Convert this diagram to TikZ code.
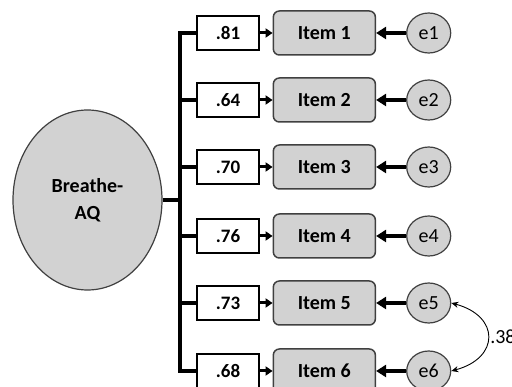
\documentclass[tikz,border=0pt]{standalone}
\usepackage{fontspec}
\setmainfont{Carlito}
\usetikzlibrary{positioning,calc,arrows.meta,shapes.geometric}
\definecolor{boxgray}{RGB}{210,210,210}
\definecolor{edgegray}{RGB}{64,64,64}

\begin{document}
\begin{tikzpicture}[x=1pt,y=-1pt,
    latent node/.style={ellipse,draw=edgegray,line width=1.2pt,fill=boxgray,
      minimum width=149pt,minimum height=180pt,align=center,
      font=\fontsize{20}{28}\selectfont\bfseries},
    load node/.style={rectangle,draw,line width=1.2pt,fill=white,inner sep=0pt,
      minimum width=62pt,minimum height=34pt,font=\fontsize{19}{20}\selectfont\bfseries},
    item node/.style={rectangle,rounded corners=6pt,draw=edgegray,line width=1.5pt,
      fill=boxgray,minimum width=102pt,minimum height=44pt,
      font=\fontsize{20}{22}\selectfont\bfseries},
    err node/.style={ellipse,draw=edgegray,line width=1.2pt,fill=boxgray,inner sep=0pt,
      minimum width=44pt,minimum height=40pt,font=\fontsize{20}{22}\selectfont},
    bus/.style={line width=4pt},
    short arrow/.style={line width=3pt,-{Triangle[length=7pt,width=9pt]}},
    err arrow/.style={line width=4pt,-{Triangle[length=10pt,width=12pt]}}]
    \useasboundingbox (0,0) rectangle (512,387);
    % nodes
      \node[latent node] (F) at (87.5,200) {\raisebox{6pt}{\begin{tabular}{@{}c@{}}Breathe-\\[-1pt]AQ\end{tabular}}};
      \coordinate (bus) at (180,0);
      \node[load node] (v1) at (228,33) {.81};
      \node[load node] (v2) at (228,100) {.64};
      \node[load node] (v3) at (228,167) {.70};
      \node[load node] (v4) at (228,236) {.76};
      \node[load node] (v5) at (228,303) {.73};
      \node[load node] (v6) at (228,371) {.68};
      \node[item node] (i1) [right = 13pt of v1] {Item 1};
      \node[item node] (i2) [right = 13pt of v2] {Item 2};
      \node[item node] (i3) [right = 13pt of v3] {Item 3};
      \node[item node] (i4) [right = 13pt of v4] {Item 4};
      \node[item node] (i5) [right = 13pt of v5] {Item 5};
      \node[item node] (i6) [right = 13pt of v6] {Item 6};
      \node[err node] (e1) [right = 30pt of i1] {e1};
      \node[err node] (e2) [right = 30pt of i2] {e2};
      \node[err node] (e3) [right = 30pt of i3] {e3};
      \node[err node] (e4) [right = 30pt of i4] {e4};
      \node[err node] (e5) [right = 30pt of i5] {e5};
      \node[err node] (e6) [right = 30pt of i6] {e6};
      % bus
      \draw[bus] (v1.west) -- (v1.west -| bus) -- (v6.west -| bus) -- (v6.west);
      \draw[bus] (F.east) -- (F.east -| bus);
      \draw[bus] (v2.west -| bus) -- (v2.west);
      \draw[bus] (v3.west -| bus) -- (v3.west);
      \draw[bus] (v4.west -| bus) -- (v4.west);
      \draw[bus] (v5.west -| bus) -- (v5.west);
      %edges
      \draw[short arrow] (v1) -- (i1);
      \draw[short arrow] (v2) -- (i2);
      \draw[short arrow] (v3) -- (i3);
      \draw[short arrow] (v4) -- (i4);
      \draw[short arrow] (v5) -- (i5);
      \draw[short arrow] (v6) -- (i6);
      \draw[err arrow] (e1) -- (i1);
      \draw[err arrow] (e2) -- (i2);
      \draw[err arrow] (e3) -- (i3);
      \draw[err arrow] (e4) -- (i4);
      \draw[err arrow] (e5) -- (i5);
      \draw[err arrow] (e6) -- (i6);
      \draw[line width=0.9pt,{Stealth[length=7pt,width=6pt]}-{Stealth[length=7pt,width=6pt]}]
        (e5.east) to[out=-15,in=15,looseness=1.9] node[right,font=\fontsize{20}{22}\selectfont,inner sep=2pt] {.38} (e6.east);
    \end{tikzpicture}
\end{document}
